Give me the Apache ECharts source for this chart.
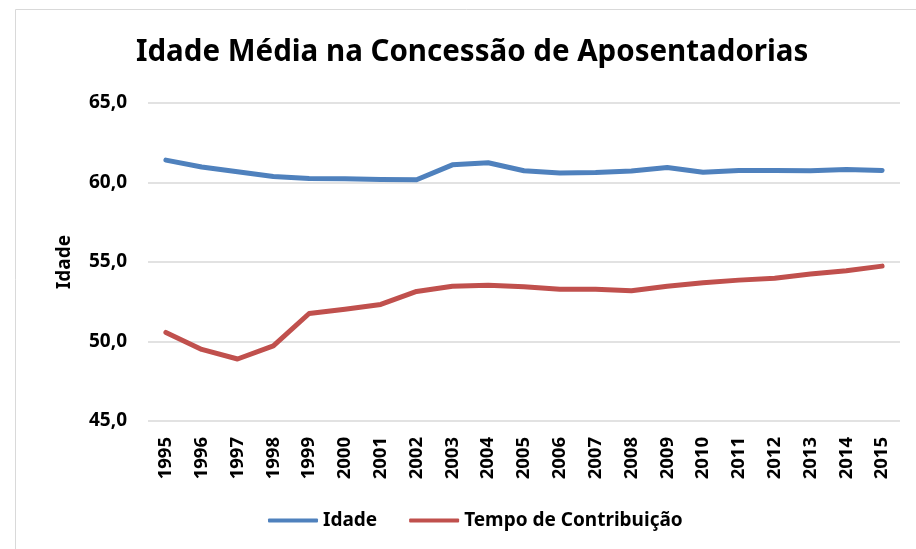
<!DOCTYPE html>
<html>
<head>
<meta charset="utf-8">
<script src="https://cdn.jsdelivr.net/npm/echarts@6/dist/echarts.min.js"></script>
<style>
  html, body { margin: 0; padding: 0; background: #fff; }
  #chart { width: 916px; height: 549px; }
</style>
</head>
<body>
<div id="chart"></div>
<script>
// anos
var years = ['1995', '1996', '1997', '1998', '1999', '2000', '2001', '2002', '2003', '2004',
  '2005', '2006', '2007', '2008', '2009', '2010', '2011', '2012', '2013', '2014', '2015']
// idade média - aposentadoria por idade
var idade = [61.41, 60.97, 60.67, 60.38, 60.25, 60.23, 60.19, 60.17, 61.11, 61.24,
  60.74, 60.59, 60.63, 60.72, 60.94, 60.65, 60.76, 60.76, 60.74, 60.82, 60.76]
// idade média - tempo de contribuição
var tempoContrib = [50.57, 49.50, 48.90, 49.72, 51.76, 52.03, 52.33, 53.15, 53.48, 53.53,
  53.44, 53.29, 53.29, 53.19, 53.48, 53.69, 53.86, 53.98, 54.24, 54.45, 54.74]
var yTicks = [45, 50, 55, 60, 65]

var fontFam = '"Noto Sans", sans-serif'
var gridColor = '#D9D9D9'

var chart = echarts.init(document.getElementById('chart'))
chart.setOption({
  animation: false,
  textStyle: { fontFamily: fontFam },
  title: {
    text: 'Idade Média na Concessão de Aposentadorias',
    left: 131,
    top: 33,
    textStyle: { color: '#000', fontWeight: 'bold', fontSize: 29.5, fontFamily: fontFam }
  },
  graphic: [{
    type: 'rect',
    shape: { x: 15.5, y: 9.5, width: 920, height: 560 },
    style: { fill: 'none', stroke: '#D9D9D9', lineWidth: 1 },
    silent: true
  }],
  grid: { left: 148, right: 16, top: 103, bottom: 128 },
  legend: {
    top: 506,
    left: 263,
    itemWidth: 50,
    itemHeight: 4,
    itemGap: 32,
    icon: 'roundRect',
    textStyle: { color: '#000', fontWeight: 'bold', fontSize: 19, fontFamily: fontFam },
    data: ['Idade', 'Tempo de Contribuição']
  },
  xAxis: {
    type: 'category',
    data: years,
    boundaryGap: true,
    axisLine: { show: false },
    axisTick: { show: false },
    axisLabel: {
      rotate: 90,
      interval: 0,
      margin: 16,
      color: '#000',
      fontWeight: 'bold',
      fontSize: 18.5,
      fontFamily: fontFam
    }
  },
  yAxis: {
    type: 'value',
    min: yTicks[0],
    max: yTicks[yTicks.length - 1],
    interval: 5,
    name: 'Idade',
    nameLocation: 'middle',
    nameRotate: 90,
    nameGap: 74,
    nameTextStyle: { color: '#000', fontWeight: 'bold', fontSize: 19, fontFamily: fontFam },
    axisLine: { show: false },
    axisTick: { show: false },
    axisLabel: {
      margin: 21,
      color: '#000',
      fontWeight: 'bold',
      fontSize: 19,
      fontFamily: fontFam,
      formatter: function (v) { return v.toFixed(1).replace('.', ',') }
    },
    splitLine: { lineStyle: { color: gridColor, width: 1.5 } }
  },
  series: [{
    name: 'Idade',
    type: 'line',
    data: idade,
    symbol: 'none',
    lineStyle: { color: '#4F81BD', width: 5, cap: 'round', join: 'round' },
    itemStyle: { color: '#4F81BD' }
  }, {
    name: 'Tempo de Contribuição',
    type: 'line',
    data: tempoContrib,
    symbol: 'none',
    lineStyle: { color: '#C0504D', width: 5, cap: 'round', join: 'round' },
    itemStyle: { color: '#C0504D' }
  }]
})
</script>
</body>
</html>
